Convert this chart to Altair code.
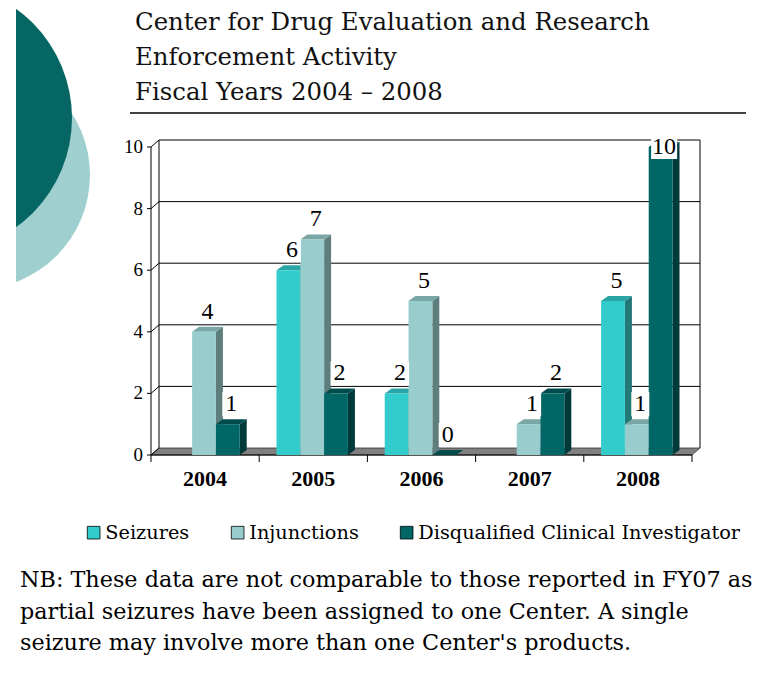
import altair as alt
import pandas as pd

# ---------------- data ----------------
YEARS = ["2004", "2005", "2006", "2007", "2008"]
SERIES = ["Seizures", "Injunctions", "Disqualified Clinical Investigator"]
SEIZURES = [None, 6, 2, None, 5]
INJUNCTIONS = [4, 7, 5, 1, 1]
DISQUALIFIED = [1, 2, 0, 2, 10]
Y_TICKS = [0, 2, 4, 6, 8, 10]
TITLE_LINES = [
    "Center for Drug Evaluation and Research",
    "Enforcement Activity",
    "Fiscal Years 2004 \u2013 2008",
]
NOTE_LINES = [
    "NB: These data are not comparable to those reported in FY07 as",
    "partial seizures have been assigned to one Center. A single",
    "seizure may involve more than one Center's products.",
]

# ---------------- style ----------------
FRONT = ["#33CCCC", "#99CCCC", "#006666"]
SIDE = ["#237878", "#5E7E7E", "#003A3A"]
TOP = ["#2AA5A5", "#7BA6A6", "#004C4C"]
SERIF = "Liberation Serif"
WIDE = "DejaVu Serif"

W, H = 541, 308
PX_X = W / 5.0
PX_Y = H / 10.0
BAR_START, BAR_W = 0.16, 0.22
DX, DY = 7 / PX_X, 5 / PX_Y          # bar depth
WDX, WDY = 8, 7                        # wall depth in px

xs = alt.Scale(domain=[0, 5], nice=False, zero=False)
ys = alt.Scale(domain=[0, 10], nice=False, zero=False)

# ---------------- tables ----------------
values = [SEIZURES, INJUNCTIONS, DISQUALIFIED]
front_rows, side_rows, top_rows, lab_rows = [], [], [], []
bid = 0
for i, yr in enumerate(YEARS):
    for k, s in enumerate(SERIES):
        v = values[k][i]
        if v is None:
            continue
        xl = i + BAR_START + k * BAR_W
        xr = xl + BAR_W
        front_rows.append(dict(id=bid, series=s, year=yr, v=v, xl=xl, xr=xr, zero=0))
        side_rows += [dict(id=bid, series=s, x=xr, y=0, y2=v),
                      dict(id=bid, series=s, x=xr + DX, y=DY, y2=v + DY)]
        top_rows += [dict(id=bid, series=s, y=v, x=xl, x2=xr),
                     dict(id=bid, series=s, y=v + DY, x=xl + DX, x2=xr + DX)]
        cx = (xl + xr) / 2 + DX / 2
        ly = min(v + 20 / PX_Y, 10)
        hw = (9 if len(str(v)) == 1 else 13) / PX_X
        hh = 12 / PX_Y
        lab_rows.append(dict(t=str(v), cx=cx, ly=ly, bx1=cx - hw, bx2=cx + hw,
                             by1=ly - hh, by2=ly + hh))
        bid += 1

front_df = pd.DataFrame(front_rows)
side_df = pd.DataFrame(side_rows)
top_df = pd.DataFrame(top_rows)
lab_df = pd.DataFrame(lab_rows)
one = pd.DataFrame({"a": [0]})
span = pd.DataFrame({"lo": [0], "hi": [10]})
ticks_df = pd.DataFrame({"v": Y_TICKS})
grid_df = pd.DataFrame({"v": Y_TICKS[1:]})
bounds_df = pd.DataFrame({"b": list(range(len(YEARS) + 1))})
years_df = pd.DataFrame({"year": YEARS, "c": [i + 0.5 for i in range(len(YEARS))]})
floor_df = pd.DataFrame({"y": [0, WDY / PX_Y], "x": [0, WDX / PX_X],
                         "x2": [5, 5 + WDX / PX_X]})

layers = []

# decorative circles (symbol size = (2r)^2)
layers.append(alt.Chart(one).mark_circle(size=(2 * 114.4) ** 2, color="#9FCFCF", opacity=1)
              .encode(x=alt.value(-175.4), y=alt.value(28)))
layers.append(alt.Chart(one).mark_circle(size=(2 * 134.6) ** 2, color="#066663", opacity=1)
              .encode(x=alt.value(-213.6), y=alt.value(-29)))
layers.append(alt.Chart(one).mark_rect(color="white")
              .encode(x=alt.value(-150), x2=alt.value(-135), y=alt.value(-150), y2=alt.value(300)))

# title
for j, line in enumerate(TITLE_LINES):
    layers.append(alt.Chart(one).mark_text(text=line, font=WIDE, fontSize=24.4, align="left",
                                           baseline="alphabetic", color="#111111")
                  .encode(x=alt.value(-16), y=alt.value(-117 + 35 * j)))
layers.append(alt.Chart(one).mark_rule(color="black", strokeWidth=1.3)
              .encode(x=alt.value(-21), x2=alt.value(595), y=alt.value(-34)))

# floor
layers.append(alt.Chart(floor_df).mark_area(orient="horizontal", color="#808080",
                                            stroke="#333333", strokeWidth=0.8)
              .encode(y=alt.Y("y:Q", scale=ys, axis=None, stack=None),
                      x=alt.X("x:Q", scale=xs, axis=None), x2="x2"))
# back wall
for xv in (WDX, W + WDX):
    layers.append(alt.Chart(span).mark_rule(color="black", strokeWidth=1, yOffset=-WDY, y2Offset=-WDY)
                  .encode(x=alt.value(xv), y=alt.Y("lo:Q", scale=ys, axis=None), y2="hi"))
# gridlines
layers.append(alt.Chart(grid_df).mark_rule(color="black", strokeWidth=1, yOffset=-WDY)
              .encode(y=alt.Y("v:Q", scale=ys, axis=None), x=alt.value(WDX), x2=alt.value(W + WDX)))
layers.append(alt.Chart(ticks_df).mark_rule(color="black", strokeWidth=1, y2Offset=-WDY)
              .encode(y=alt.Y("v:Q", scale=ys, axis=None), y2="v", x=alt.value(0), x2=alt.value(WDX)))
# front y axis
layers.append(alt.Chart(span).mark_rule(color="black", strokeWidth=1)
              .encode(x=alt.value(0), y=alt.Y("lo:Q", scale=ys, axis=None), y2="hi"))
layers.append(alt.Chart(ticks_df).mark_rule(color="black", strokeWidth=1)
              .encode(y=alt.Y("v:Q", scale=ys, axis=None), x=alt.value(-4), x2=alt.value(0)))
layers.append(alt.Chart(ticks_df).mark_text(font=SERIF, fontSize=19, align="right", baseline="middle")
              .encode(y=alt.Y("v:Q", scale=ys, axis=None), x=alt.value(-8), text="v:N"))
# front x axis
layers.append(alt.Chart(span).mark_rule(color="black", strokeWidth=1)
              .encode(y=alt.value(H), x=alt.value(0), x2=alt.value(W)))
layers.append(alt.Chart(bounds_df).mark_rule(color="black", strokeWidth=1)
              .encode(x=alt.X("b:Q", scale=xs, axis=None), y=alt.value(H), y2=alt.value(H + 7)))
layers.append(alt.Chart(years_df).mark_text(font=SERIF, fontSize=22, fontWeight="bold", baseline="middle")
              .encode(x=alt.X("c:Q", scale=xs, axis=None), y=alt.value(332), text="year:N"))

# bars: sides, tops, fronts
layers.append(alt.Chart(side_df).mark_area(orient="vertical", opacity=1)
              .encode(x=alt.X("x:Q", scale=xs, axis=None),
                      y=alt.Y("y:Q", scale=ys, axis=None, stack=None), y2="y2",
                      detail="id:N",
                      color=alt.Color("series:N", scale=alt.Scale(domain=SERIES, range=SIDE), legend=None)))
layers.append(alt.Chart(top_df).mark_area(orient="horizontal", opacity=1)
              .encode(y=alt.Y("y:Q", scale=ys, axis=None, stack=None),
                      x=alt.X("x:Q", scale=xs, axis=None), x2="x2",
                      detail="id:N",
                      color=alt.Color("series:N", scale=alt.Scale(domain=SERIES, range=TOP), legend=None)))
layers.append(alt.Chart(front_df).mark_rect(opacity=1)
              .encode(x=alt.X("xl:Q", scale=xs, axis=None), x2="xr",
                      y=alt.Y("zero:Q", scale=ys, axis=None), y2="v",
                      color=alt.Color("series:N", scale=alt.Scale(domain=SERIES, range=FRONT),
                                      legend=alt.Legend(orient="none", legendX=-67, legendY=376,
                                                        direction="horizontal", title=None,
                                                        symbolType="square", symbolSize=160,
                                                        symbolStrokeColor="black", symbolStrokeWidth=0.8,
                                                        symbolOpacity=1,
                                                        labelFont=WIDE, labelFontSize=19.3,
                                                        labelColor="black", labelOffset=2,
                                                        columnPadding=38, labelLimit=0))))
# labels
layers.append(alt.Chart(lab_df).mark_rect(color="white")
              .encode(x=alt.X("bx1:Q", scale=xs, axis=None), x2="bx2",
                      y=alt.Y("by1:Q", scale=ys, axis=None), y2="by2"))
layers.append(alt.Chart(lab_df).mark_text(font=SERIF, fontSize=24, baseline="middle", color="black")
              .encode(x=alt.X("cx:Q", scale=xs, axis=None), y=alt.Y("ly:Q", scale=ys, axis=None),
                      text="t:N"))

# note
for j, line in enumerate(NOTE_LINES):
    layers.append(alt.Chart(one).mark_text(text=line, font=WIDE, fontSize=22.3, align="left",
                                           baseline="alphabetic", color="black")
                  .encode(x=alt.value(-131), y=alt.value(440 + 31.5 * j)))

chart = (alt.layer(*layers)
         .resolve_scale(color="independent")
         .properties(width=W, height=H,
                     padding={"left": 143, "top": 139, "right": 72, "bottom": 218},
                     autosize=alt.AutoSizeParams(type="none"))
         .configure_view(stroke=None))

chart.save("out.html", embed_options={"renderer": "svg", "actions": False})
